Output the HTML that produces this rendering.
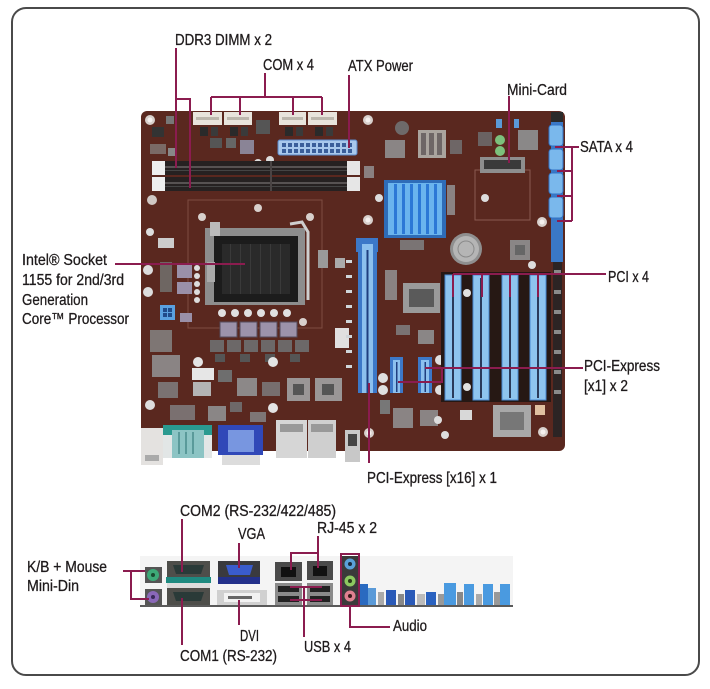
<!DOCTYPE html>
<html><head><meta charset="utf-8"><style>
html,body{margin:0;padding:0;background:#fff;}
svg{display:block;}
text{font-family:"Liberation Sans",Arial,sans-serif;font-size:16px;fill:#1f1b1c;stroke:#1f1b1c;stroke-width:0.3px;}
.l{stroke:#8b1c4f;stroke-width:2;fill:none;}
</style></head><body>
<svg width="710" height="689" viewBox="0 0 710 689" xmlns="http://www.w3.org/2000/svg">
<rect x="12" y="8" width="687" height="667" rx="14" fill="#fff" stroke="#4a4a4a" stroke-width="2"/>

<!-- ===== BOARD ===== -->
<rect x="141" y="111" width="424" height="340" rx="6" fill="#5a281f"/>
<!-- rear IO on board -->
<rect x="141" y="428" width="22" height="37" fill="#e4e2e0"/>
<rect x="145" y="455" width="14" height="6" fill="#aaa"/>
<rect x="163" y="425" width="49" height="10" fill="#2a9a90"/>
<rect x="163" y="435" width="49" height="23" fill="#e2e6e6"/>
<rect x="172" y="430" width="32" height="28" fill="#8cc4c4"/>
<rect x="178" y="432" width="2" height="22" fill="#5a9a9a"/><rect x="185" y="432" width="2" height="22" fill="#5a9a9a"/><rect x="192" y="432" width="2" height="22" fill="#5a9a9a"/>
<rect x="218" y="425" width="45" height="30" fill="#3048b8"/>
<rect x="228" y="430" width="26" height="22" fill="#7896e0"/>
<rect x="222" y="455" width="38" height="10" fill="#dcdcdc"/>
<rect x="276" y="420" width="31" height="38" fill="#d6d6d6"/>
<rect x="308" y="420" width="28" height="38" fill="#cfcfcf"/>
<rect x="280" y="424" width="23" height="8" fill="#999"/><rect x="311" y="424" width="22" height="8" fill="#999"/>
<rect x="345" y="430" width="15" height="32" fill="#c8c8c8"/>
<rect x="348" y="434" width="9" height="12" fill="#444"/>

<!-- top COM headers -->
<rect x="193" y="112" width="29" height="13" fill="#e8e4dc"/>
<rect x="224" y="112" width="28" height="13" fill="#e8e4dc"/>
<rect x="279" y="112" width="27" height="13" fill="#e8e4dc"/>
<rect x="308" y="112" width="29" height="13" fill="#e8e4dc"/>
<rect x="196" y="117" width="23" height="3" fill="#bdb8ae"/><rect x="227" y="117" width="22" height="3" fill="#bdb8ae"/>
<rect x="282" y="117" width="21" height="3" fill="#bdb8ae"/><rect x="311" y="117" width="23" height="3" fill="#bdb8ae"/>
<rect x="200" y="127" width="8" height="9" fill="#2a2a2a"/><rect x="211" y="127" width="7" height="9" fill="#3a3a3a"/>
<rect x="230" y="127" width="8" height="9" fill="#2a2a2a"/><rect x="241" y="127" width="7" height="9" fill="#3a3a3a"/>
<rect x="256" y="120" width="14" height="14" fill="#555"/>
<rect x="285" y="127" width="8" height="9" fill="#2a2a2a"/><rect x="296" y="127" width="7" height="9" fill="#3a3a3a"/>
<rect x="315" y="127" width="8" height="9" fill="#2a2a2a"/><rect x="326" y="127" width="7" height="9" fill="#3a3a3a"/>
<rect x="152" y="127" width="12" height="10" fill="#333"/>
<rect x="166" y="116" width="8" height="8" fill="#777"/>
<rect x="150" y="144" width="16" height="10" fill="#7a6a66"/>
<rect x="168" y="148" width="8" height="8" fill="#888"/>
<rect x="210" y="138" width="12" height="10" fill="#555"/><rect x="226" y="138" width="10" height="10" fill="#666"/>
<rect x="240" y="140" width="14" height="14" fill="#8a8496"/>
<circle cx="258" cy="163" r="4" fill="#ddd"/><circle cx="270" cy="160" r="4" fill="#ddd"/>
<!-- ATX power -->
<rect x="278" y="140" width="79" height="15" rx="2" fill="#a8c8ec" stroke="#5a88c8" stroke-width="1"/>
<g fill="#3a5e9a">
<rect x="282" y="143" width="4" height="4"/><rect x="288" y="143" width="4" height="4"/><rect x="294" y="143" width="4" height="4"/><rect x="300" y="143" width="4" height="4"/><rect x="306" y="143" width="4" height="4"/><rect x="312" y="143" width="4" height="4"/><rect x="318" y="143" width="4" height="4"/><rect x="324" y="143" width="4" height="4"/><rect x="330" y="143" width="4" height="4"/><rect x="336" y="143" width="4" height="4"/><rect x="342" y="143" width="4" height="4"/><rect x="348" y="143" width="4" height="4"/>
<rect x="282" y="149" width="4" height="4"/><rect x="288" y="149" width="4" height="4"/><rect x="294" y="149" width="4" height="4"/><rect x="300" y="149" width="4" height="4"/><rect x="306" y="149" width="4" height="4"/><rect x="312" y="149" width="4" height="4"/><rect x="318" y="149" width="4" height="4"/><rect x="324" y="149" width="4" height="4"/><rect x="330" y="149" width="4" height="4"/><rect x="336" y="149" width="4" height="4"/><rect x="342" y="149" width="4" height="4"/><rect x="348" y="149" width="4" height="4"/>
</g>
<!-- DIMMs -->
<rect x="152" y="161" width="208" height="14" fill="#262121"/>
<rect x="152" y="177" width="208" height="14" fill="#262121"/>
<rect x="165" y="166" width="182" height="2" fill="#575252"/><rect x="165" y="170" width="182" height="1" fill="#444"/>
<rect x="165" y="182" width="182" height="2" fill="#575252"/><rect x="165" y="186" width="182" height="1" fill="#444"/>
<rect x="270" y="161" width="2" height="30" fill="#4a4444"/>
<rect x="152" y="161" width="13" height="14" fill="#eeeeee"/><rect x="347" y="161" width="13" height="14" fill="#e6e6e6"/>
<rect x="152" y="177" width="13" height="14" fill="#eeeeee"/><rect x="347" y="177" width="13" height="14" fill="#e6e6e6"/>
<rect x="364" y="166" width="10" height="12" fill="#8a8080"/>
<!-- socket area -->
<rect x="188" y="200" width="134" height="128" fill="none" stroke="#7e4d42" stroke-width="1"/>
<rect x="205" y="228" width="100" height="77" fill="#8d8d8d"/>
<rect x="214" y="236" width="84" height="66" fill="#1c1c1c"/>
<rect x="222" y="244" width="68" height="50" fill="#2a2a2a"/>
<g fill="#3a3a3a"><rect x="230" y="244" width="1" height="50"/><rect x="240" y="244" width="1" height="50"/><rect x="250" y="244" width="1" height="50"/><rect x="260" y="244" width="1" height="50"/><rect x="270" y="244" width="1" height="50"/><rect x="280" y="244" width="1" height="50"/></g>
<path d="M290 224 L302 222 L308 232 L308 300" stroke="#cfcfcf" stroke-width="3" fill="none"/>
<rect x="210" y="222" width="10" height="14" fill="#bbb"/>
<rect x="207" y="262" width="8" height="20" fill="#aaa"/>
<!-- left of socket -->
<circle cx="148" cy="270" r="5" fill="#ddd"/><circle cx="148" cy="292" r="5" fill="#ddd"/>
<circle cx="150" cy="232" r="4" fill="#ddd"/><circle cx="152" cy="200" r="5" fill="#d0c8c4"/>
<rect x="158" y="238" width="16" height="10" fill="#ccc"/>
<rect x="177" y="265" width="15" height="13" fill="#9a90a8"/>
<rect x="177" y="282" width="15" height="12" fill="#9a90a8"/>
<rect x="180" y="313" width="12" height="9" fill="#9a90a8"/>
<rect x="160" y="262" width="12" height="30" fill="#6e6662"/>
<circle cx="197" cy="268" r="3" fill="#ddd"/><circle cx="197" cy="276" r="3" fill="#ddd"/><circle cx="197" cy="284" r="3" fill="#ddd"/><circle cx="197" cy="292" r="3" fill="#ddd"/><circle cx="197" cy="300" r="3" fill="#ddd"/>
<rect x="160" y="305" width="15" height="15" fill="#5aa0e0"/>
<rect x="163" y="308" width="4" height="4" fill="#1f4a8a"/><rect x="168" y="308" width="4" height="4" fill="#1f4a8a"/><rect x="163" y="313" width="4" height="4" fill="#1f4a8a"/><rect x="168" y="313" width="4" height="4" fill="#1f4a8a"/>
<!-- below socket -->
<g fill="#e0e0e0"><circle cx="222" cy="313" r="4"/><circle cx="235" cy="313" r="4"/><circle cx="248" cy="313" r="4"/><circle cx="261" cy="313" r="4"/><circle cx="274" cy="313" r="4"/><circle cx="287" cy="313" r="4"/></g>
<g fill="#9c92aa" stroke="#554c5e" stroke-width="1"><rect x="220" y="322" width="17" height="15"/><rect x="240" y="322" width="17" height="15"/><rect x="260" y="322" width="17" height="15"/><rect x="280" y="322" width="17" height="15"/></g>
<g fill="#6c6868"><rect x="210" y="340" width="14" height="12"/><rect x="227" y="340" width="14" height="12"/><rect x="244" y="340" width="14" height="12"/><rect x="261" y="340" width="14" height="12"/><rect x="278" y="340" width="14" height="12"/><rect x="295" y="340" width="14" height="12"/></g>
<g fill="#555"><rect x="215" y="354" width="10" height="8"/><rect x="240" y="354" width="10" height="8"/><rect x="265" y="354" width="10" height="8"/><rect x="290" y="354" width="10" height="8"/></g>
<!-- lower-left busy -->
<rect x="150" y="330" width="22" height="22" fill="#7e7674"/>
<rect x="152" y="355" width="28" height="22" fill="#8a8484"/>
<rect x="158" y="382" width="20" height="16" fill="#7a7272"/>
<circle cx="150" cy="405" r="5" fill="#ddd"/>
<rect x="192" y="368" width="22" height="12" fill="#e6e6e6"/>
<rect x="193" y="382" width="18" height="14" fill="#b4b4b4"/>
<circle cx="198" cy="362" r="5" fill="#e4e4e4"/>
<rect x="218" y="370" width="14" height="12" fill="#6e6e6e"/>
<rect x="237" y="378" width="20" height="18" fill="#8c8888"/>
<rect x="208" y="406" width="18" height="15" fill="#8a8686"/>
<rect x="230" y="402" width="12" height="10" fill="#6e6868"/>
<circle cx="273" cy="362" r="5" fill="#e4e4e4"/><circle cx="273" cy="408" r="5" fill="#e4e4e4"/>
<rect x="287" y="378" width="23" height="23" fill="#9a9696"/><rect x="293" y="384" width="11" height="11" fill="#555"/>
<rect x="315" y="378" width="27" height="23" fill="#9a9696"/><rect x="322" y="384" width="12" height="11" fill="#555"/>
<rect x="262" y="382" width="18" height="14" fill="#776e6e"/>
<rect x="170" y="405" width="25" height="15" fill="#7a7070"/>
<rect x="250" y="412" width="16" height="10" fill="#7e7676"/>
<rect x="335" y="328" width="14" height="20" fill="#e0e0e0"/>
<rect x="318" y="250" width="10" height="18" fill="#9a9a9a"/><rect x="335" y="258" width="10" height="10" fill="#aaa"/>
<!-- mounting holes -->
<g fill="#d8d0cc"><circle cx="150" cy="120" r="5"/><circle cx="368" cy="120" r="5"/><circle cx="202" cy="217" r="4"/><circle cx="258" cy="208" r="4"/><circle cx="310" cy="217" r="4"/><circle cx="368" cy="220" r="5"/><circle cx="542" cy="222" r="5"/><circle cx="369" cy="433" r="5"/><circle cx="543" cy="432" r="5"/><circle cx="303" cy="322" r="4"/></g>
<g fill="#f4f0ee"><circle cx="150" cy="120" r="2.5"/><circle cx="368" cy="120" r="2.5"/><circle cx="368" cy="220" r="2.5"/><circle cx="542" cy="222" r="2.5"/><circle cx="369" cy="433" r="2.5"/><circle cx="543" cy="432" r="2.5"/></g>
<!-- top middle -->
<circle cx="402" cy="128" r="7" fill="#6e6a6a"/>
<rect x="385" y="140" width="20" height="18" fill="#8a8585"/>
<rect x="418" y="130" width="28" height="28" fill="#aaa49e"/>
<g fill="#6e6666"><rect x="421" y="133" width="5" height="22"/><rect x="429" y="133" width="5" height="22"/><rect x="437" y="133" width="5" height="22"/></g>
<rect x="450" y="140" width="12" height="14" fill="#6e6666"/>
<!-- heatsink -->
<rect x="384" y="180" width="62" height="58" fill="#2e6cb8"/>
<rect x="388" y="183" width="54" height="52" fill="#6ab4ee"/>
<g fill="#2c78d6"><rect x="394" y="184" width="3" height="50"/><rect x="402" y="184" width="3" height="50"/><rect x="410" y="184" width="3" height="50"/><rect x="418" y="184" width="3" height="50"/><rect x="426" y="184" width="3" height="50"/><rect x="434" y="184" width="3" height="50"/></g>
<circle cx="379" cy="198" r="4" fill="#ddd"/>
<rect x="447" y="185" width="8" height="30" fill="#8a8282"/>
<rect x="400" y="240" width="24" height="10" fill="#7a7474"/>
<!-- battery -->
<circle cx="466" cy="249" r="16" fill="#8f8f8f"/>
<circle cx="466" cy="249" r="13" fill="#b5b5b5"/>
<circle cx="466" cy="249" r="8" fill="none" stroke="#8a8a8a" stroke-width="1"/>
<!-- right upper -->
<rect x="475" y="170" width="55" height="50" fill="none" stroke="#8a5a50" stroke-width="1"/>
<rect x="480" y="157" width="45" height="16" fill="#8e8e8e"/>
<rect x="484" y="160" width="37" height="9" fill="#3a3a3a"/>
<circle cx="500" cy="140" r="5" fill="#7cc07c"/><circle cx="500" cy="151" r="5" fill="#7cc07c"/>
<rect x="496" y="119" width="6" height="9" fill="#5a9ad8"/><rect x="514" y="119" width="5" height="9" fill="#5a9ad8"/>
<rect x="518" y="130" width="20" height="20" fill="#8a8888"/>
<rect x="478" y="132" width="14" height="14" fill="#6a6262"/>
<rect x="551" y="112" width="12" height="12" fill="#2a2a2a"/>
<circle cx="485" cy="198" r="4" fill="#ddd"/>
<rect x="510" y="240" width="20" height="20" fill="#8a8686"/>
<rect x="515" y="245" width="10" height="10" fill="#666"/>
<circle cx="532" cy="265" r="4" fill="#ddd"/>
<!-- SATA -->
<rect x="551" y="122" width="12" height="140" fill="#3a78c6"/>
<g fill="#7ab8ec" stroke="#3272c4" stroke-width="1"><rect x="549" y="125" width="14" height="21" rx="3"/><rect x="549" y="149" width="14" height="21" rx="3"/><rect x="549" y="173" width="14" height="21" rx="3"/><rect x="549" y="197" width="14" height="21" rx="3"/></g>
<rect x="553" y="262" width="9" height="175" fill="#2c2424"/>
<g fill="#8a8a8a"><rect x="554" y="270" width="7" height="4"/><rect x="554" y="290" width="7" height="4"/><rect x="554" y="310" width="7" height="4"/><rect x="554" y="330" width="7" height="4"/><rect x="554" y="350" width="7" height="4"/><rect x="554" y="370" width="7" height="4"/><rect x="554" y="390" width="7" height="4"/></g>
<!-- PCIe x16 -->
<rect x="356" y="238" width="22" height="14" fill="#3c78c8"/>
<rect x="358" y="238" width="19" height="155" fill="#3c78c8"/>
<rect x="362" y="244" width="11" height="149" fill="#8cc0ee"/>
<rect x="366.5" y="250" width="2" height="143" fill="#1f3f80"/>
<g fill="#cfd6da"><rect x="346" y="260" width="6" height="3"/><rect x="346" y="275" width="6" height="3"/><rect x="346" y="290" width="6" height="3"/><rect x="346" y="305" width="6" height="3"/><rect x="346" y="320" width="6" height="3"/><rect x="346" y="335" width="6" height="3"/><rect x="346" y="350" width="6" height="3"/><rect x="346" y="365" width="6" height="3"/></g>
<!-- middle components -->
<rect x="385" y="270" width="12" height="30" fill="#8a8282"/>
<rect x="403" y="283" width="37" height="30" fill="#9a9a9a"/>
<rect x="409" y="289" width="25" height="18" fill="#5a5a5a"/>
<rect x="396" y="325" width="14" height="10" fill="#7a7272"/>
<rect x="418" y="330" width="16" height="14" fill="#8a8686"/>
<circle cx="383" cy="378" r="5" fill="#e0e0e0"/><circle cx="383" cy="390" r="5" fill="#e0e0e0"/>
<circle cx="440" cy="360" r="5" fill="#e0e0e0"/><circle cx="440" cy="390" r="5" fill="#e0e0e0"/>
<!-- PCIe x1 -->
<rect x="390" y="357" width="13" height="36" fill="#3c78c8"/><rect x="393" y="360" width="7" height="33" fill="#8cc0ee"/><rect x="396" y="362" width="1.5" height="30" fill="#1f3f80"/>
<rect x="418" y="357" width="14" height="36" fill="#3c78c8"/><rect x="421" y="360" width="8" height="33" fill="#8cc0ee"/><rect x="424.5" y="362" width="1.5" height="30" fill="#1f3f80"/>
<!-- PCI slots -->
<rect x="441" y="272" width="110" height="130" fill="#261814"/>
<g fill="#8ec4ee" stroke="#4888d0" stroke-width="1">
<rect x="445" y="275" width="16" height="125"/><rect x="473" y="275" width="16" height="125"/><rect x="502" y="275" width="16" height="125"/><rect x="530" y="275" width="16" height="125"/></g>
<g fill="#2a3a5a"><rect x="452" y="278" width="2" height="120"/><rect x="480" y="278" width="2" height="120"/><rect x="509" y="278" width="2" height="120"/><rect x="537" y="278" width="2" height="120"/></g>
<circle cx="467" cy="293" r="4" fill="#e0e0e0"/><circle cx="467" cy="387" r="4" fill="#e0e0e0"/>
<!-- bottom right -->
<rect x="493" y="405" width="38" height="32" fill="#a8a8a8"/>
<rect x="500" y="412" width="24" height="18" fill="#777"/>
<rect x="393" y="408" width="20" height="20" fill="#8a8484"/>
<rect x="420" y="410" width="18" height="16" fill="#8a8484"/>
<circle cx="438" cy="420" r="4" fill="#ddd"/><circle cx="445" cy="435" r="4" fill="#ddd"/>
<rect x="460" y="410" width="12" height="10" fill="#d8d8d8"/>
<rect x="535" y="405" width="10" height="10" fill="#e0c0a0"/>
<rect x="380" y="400" width="10" height="14" fill="#777"/>

<!-- ===== BOTTOM IO STRIP ===== -->
<rect x="140" y="556" width="373" height="50" fill="#f4f4f4"/>
<rect x="140" y="605" width="373" height="2" fill="#5a5a5a"/>
<rect x="145" y="567" width="17" height="16" fill="#555"/>
<circle cx="153" cy="575" r="6" fill="#3daa78"/><circle cx="153" cy="575" r="2" fill="#1a4a30"/>
<rect x="145" y="589" width="17" height="16" fill="#555"/>
<circle cx="153" cy="597" r="6" fill="#8a68b8"/><circle cx="153" cy="597" r="2" fill="#3a2a5a"/>
<rect x="167" y="561" width="43" height="16" fill="#4e4e4a"/>
<path d="M173 565 H204 L201 574 H176 Z" fill="#2a3a38"/>
<rect x="166" y="577" width="45" height="6" fill="#1e8a80"/>
<rect x="167" y="588" width="43" height="17" fill="#4e4e4a"/>
<path d="M173 592 H204 L201 601 H176 Z" fill="#2a3a38"/>
<rect x="167" y="583" width="43" height="5" fill="#ddd"/>
<rect x="218" y="561" width="42" height="16" fill="#3a3a3e"/>
<path d="M226 565 H253 L250 575 H229 Z" fill="#3a5ccc"/>
<rect x="218" y="577" width="42" height="7" fill="#23308a"/>
<rect x="217" y="590" width="50" height="15" fill="#d0d0d0"/>
<rect x="224" y="593" width="36" height="9" fill="#f2f2f2"/>
<rect x="228" y="596" width="24" height="3" fill="#666"/>
<rect x="275" y="562" width="27" height="19" fill="#4a4a4a"/><rect x="281" y="567" width="15" height="10" fill="#111"/>
<rect x="307" y="561" width="26" height="19" fill="#4a4a4a"/><rect x="313" y="566" width="14" height="10" fill="#111"/>
<rect x="275" y="583" width="27" height="22" fill="#8a8a8a"/><rect x="278" y="586" width="21" height="6" fill="#222"/><rect x="278" y="596" width="21" height="6" fill="#222"/>
<rect x="307" y="583" width="26" height="22" fill="#8a8a8a"/><rect x="310" y="586" width="20" height="6" fill="#222"/><rect x="310" y="596" width="20" height="6" fill="#222"/>
<rect x="342" y="556" width="16" height="50" fill="#3a3a3a"/>
<circle cx="350" cy="564" r="5.5" fill="#5aa0d8"/><circle cx="350" cy="564" r="2" fill="#1a2a3a"/>
<circle cx="350" cy="581" r="5.5" fill="#8cc860"/><circle cx="350" cy="581" r="2" fill="#2a3a1a"/>
<circle cx="350" cy="596" r="5.5" fill="#e08090"/><circle cx="350" cy="596" r="2" fill="#3a1a1a"/>
<rect x="360" y="584" width="8" height="21" fill="#2a6ac0"/>
<rect x="368" y="588" width="8" height="17" fill="#5a9ad8"/>
<rect x="378" y="592" width="6" height="13" fill="#aaa"/>
<rect x="386" y="590" width="10" height="15" fill="#2a5ab8"/>
<rect x="398" y="594" width="6" height="11" fill="#888"/>
<rect x="405" y="590" width="10" height="15" fill="#2a5ab8"/>
<rect x="417" y="594" width="8" height="11" fill="#bbb"/>
<rect x="426" y="592" width="10" height="13" fill="#2a62c0"/>
<rect x="438" y="594" width="6" height="11" fill="#999"/>
<rect x="444" y="583" width="12" height="22" fill="#4a9ae0"/>
<rect x="457" y="592" width="6" height="13" fill="#888"/>
<rect x="464" y="584" width="10" height="21" fill="#4a9ae0"/>
<rect x="476" y="594" width="6" height="11" fill="#aaa"/>
<rect x="483" y="584" width="10" height="21" fill="#4a9ae0"/>
<rect x="494" y="592" width="6" height="13" fill="#999"/>
<rect x="500" y="584" width="10" height="21" fill="#4a9ae0"/>

<!-- ===== CONNECTOR LINES ===== -->
<g class="l">
<path d="M176 48 V168 M176 99 H190 V188"/>
<path d="M265 73 V97 M211 97 H322 M211 97 V115 M240 97 V115 M293 97 V115 M322 97 V115"/>
<path d="M349 75 V148"/>
<path d="M509 96 V163"/>
<path d="M555 147 H579 M572 147 V221 M557 171 H572 M557 196 H572 M557 221 H572"/>
<path d="M453 274 H606 M453 274 V297 M482 274 V297 M510 274 V297 M538 274 V297"/>
<path d="M425 368 H583 M442 368 V382 H398"/>
<path d="M369 383 V463"/>
<path d="M115 264 H245"/>
<path d="M123 571 H145 M131 571 V599 H149"/>
<path d="M182 519 V572"/>
<path d="M182 598 V645"/>
<path d="M239 543 V568"/>
<path d="M239 600 V625"/>
<path d="M318 536 V568 M290 553 H319 M291 553 V570"/>
<path d="M290 587 H322 M290 600 H322 M304 587 V637"/>
<rect x="341" y="554" width="18" height="52"/>
<path d="M350 606 V627 H390"/>
</g>

<!-- ===== LABELS ===== -->
<text x="175" y="45" textLength="97" lengthAdjust="spacingAndGlyphs">DDR3 DIMM x 2</text>
<text x="263" y="70" textLength="51" lengthAdjust="spacingAndGlyphs">COM x 4</text>
<text x="348" y="71" textLength="65" lengthAdjust="spacingAndGlyphs">ATX Power</text>
<text x="507" y="95" textLength="60" lengthAdjust="spacingAndGlyphs">Mini-Card</text>
<text x="580" y="152" textLength="53" lengthAdjust="spacingAndGlyphs">SATA x 4</text>
<text x="608" y="282" textLength="41" lengthAdjust="spacingAndGlyphs">PCI x 4</text>
<text x="584" y="371" textLength="76" lengthAdjust="spacingAndGlyphs">PCI-Express</text>
<text x="584" y="391" textLength="44" lengthAdjust="spacingAndGlyphs">[x1] x 2</text>
<text x="367" y="483" textLength="130" lengthAdjust="spacingAndGlyphs">PCI-Express [x16] x 1</text>
<text x="22" y="265" textLength="85" lengthAdjust="spacingAndGlyphs">Intel® Socket</text>
<text x="22" y="285" textLength="102" lengthAdjust="spacingAndGlyphs">1155 for 2nd/3rd</text>
<text x="22" y="305" textLength="66" lengthAdjust="spacingAndGlyphs">Generation</text>
<text x="22" y="324" textLength="107" lengthAdjust="spacingAndGlyphs">Core™ Processor</text>
<text x="180" y="516" textLength="156" lengthAdjust="spacingAndGlyphs">COM2 (RS-232/422/485)</text>
<text x="238" y="539" textLength="27" lengthAdjust="spacingAndGlyphs">VGA</text>
<text x="317" y="533" textLength="60" lengthAdjust="spacingAndGlyphs">RJ-45 x 2</text>
<text x="27" y="572" textLength="80" lengthAdjust="spacingAndGlyphs">K/B + Mouse</text>
<text x="27" y="591" textLength="52" lengthAdjust="spacingAndGlyphs">Mini-Din</text>
<text x="240" y="641" textLength="19" lengthAdjust="spacingAndGlyphs">DVI</text>
<text x="393" y="631" textLength="34" lengthAdjust="spacingAndGlyphs">Audio</text>
<text x="304" y="652" textLength="47" lengthAdjust="spacingAndGlyphs">USB x 4</text>
<text x="180" y="661" textLength="97" lengthAdjust="spacingAndGlyphs">COM1 (RS-232)</text>
</svg>
</body></html>
